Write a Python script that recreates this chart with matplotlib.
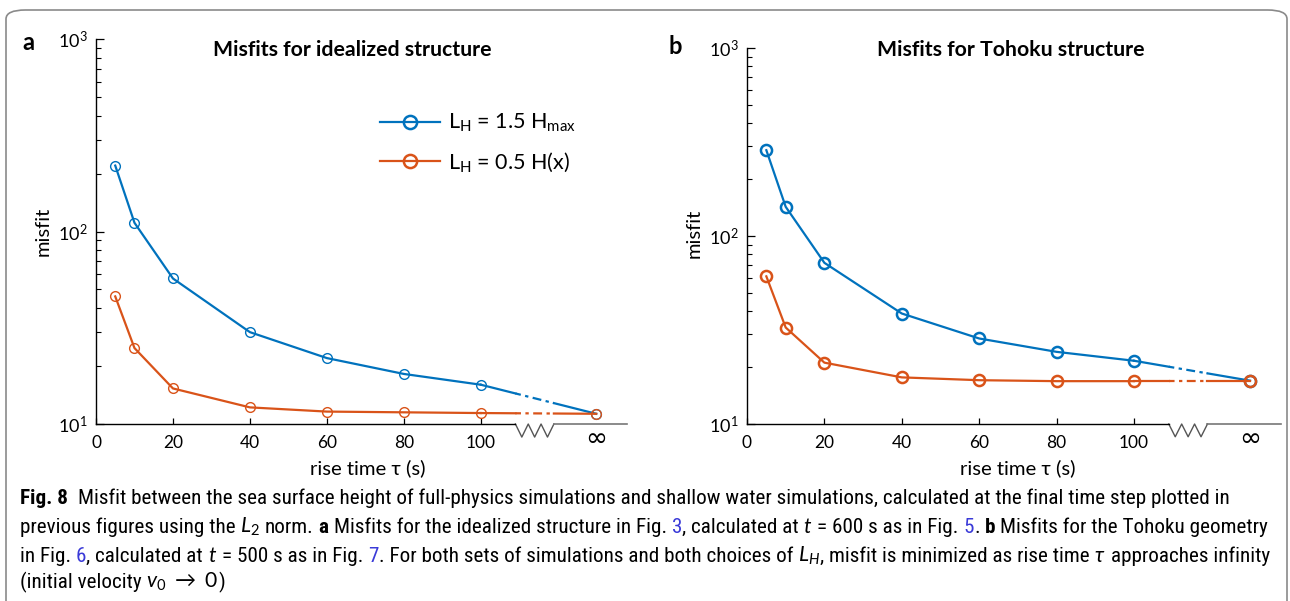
import numpy as np
import matplotlib.pyplot as plt
from matplotlib import font_manager
from matplotlib.patches import FancyBboxPatch
from matplotlib.transforms import blended_transform_factory

plt.rcParams['font.family'] = ['Lato', 'DejaVu Sans']
plt.rcParams['mathtext.fontset'] = 'custom'
plt.rcParams['mathtext.rm'] = 'Lato'
plt.rcParams['mathtext.it'] = 'Lato:italic'
plt.rcParams['mathtext.bf'] = 'Lato:bold'

# rise times (s); the last point of each series is tau -> infinity
tau = [5, 10, 20, 40, 60, 80, 100]

idealized_hmax = [220, 111, 57, 30, 22, 18.2, 16]
idealized_hmax_inf = 11.3
idealized_hx = [46, 24.8, 15.3, 12.2, 11.6, 11.5, 11.4]
idealized_hx_inf = 11.3

tohoku_hmax = [286, 143, 72, 38.7, 28.5, 24.2, 21.7]
tohoku_hmax_inf = 17.0
tohoku_hx = [61, 32.6, 21.2, 17.7, 17.1, 16.9, 16.9]
tohoku_hx_inf = 16.9

xtick_vals = [0, 20, 40, 60, 80, 100]

# layout of the broken axis
INF_POS = 130
BREAK_LO, BREAK_HI = 109, 119
XMAX = 138

BLUE = '#0072BD'
ORANGE = '#D95319'
W, H = 1290, 601

fig = plt.figure(figsize=(W / 100, H / 100), dpi=100)

frame = FancyBboxPatch((6 / W, -0.05), 1281 / W, 1.05 - 10 / H,
                       boxstyle='round,pad=0,rounding_size=0.015',
                       transform=fig.transFigure, fc='none', ec='#8a8a8a', lw=1.2)
fig.patches.append(frame)


def log_interp(x, x0, y0, x1, y1):
    f = (x - x0) / (x1 - x0)
    return 10 ** (np.log10(y0) + f * (np.log10(y1) - np.log10(y0)))


def draw_series(ax, y, y_inf, color, ms, mew, label=None):
    ax.plot(tau, y, '-', color=color, lw=1.6, marker='o', ms=ms, mfc='none',
            mec=color, mew=mew, clip_on=False)
    ylo = log_interp(BREAK_LO, tau[-1], y[-1], INF_POS, y_inf)
    yhi = log_interp(BREAK_HI, tau[-1], y[-1], INF_POS, y_inf)
    ax.plot([tau[-1], BREAK_LO], [y[-1], ylo], '-', color=color, lw=1.6)
    ax.plot([BREAK_LO, BREAK_HI], [ylo, yhi], color=color, lw=1.6,
            linestyle=(1.5, (4, 2, 1.5, 2)))
    ax.plot([BREAK_HI, INF_POS], [yhi, y_inf], '-', color=color, lw=1.6)
    ax.plot([INF_POS], [y_inf], 'o', ms=ms, mfc='none', mec=color, mew=mew,
            clip_on=False)
    if label:
        ax.plot([], [], '-', color=color, lw=1.6, marker='o', ms=9.5,
                mfc='none', mec=color, mew=1.8, label=label)


def setup_axes(ax, title, title_xy, label, label_xy, ylab_xy, xlab_xy):
    ax.set_yscale('log')
    ax.set_ylim(10, 1000)
    ax.set_xlim(0, XMAX)
    ax.set_xticks(xtick_vals)
    ax.set_xticklabels([str(v) for v in xtick_vals])
    ax.tick_params(axis='both', which='both', direction='in')
    ax.tick_params(axis='y', which='major', length=6, width=0.9, pad=6,
                   labelsize=13)
    ax.tick_params(axis='y', which='minor', length=3.5, width=0.8)
    ax.tick_params(axis='x', which='major', length=4, width=0.9, pad=8,
                   labelsize=12.5)
    ax.tick_params(axis='x', which='minor', length=0)
    for s in ['top', 'right']:
        ax.spines[s].set_visible(False)
    ax.spines['left'].set_linewidth(1.0)
    ax.spines['bottom'].set_linewidth(1.0)
    ax.spines['bottom'].set_bounds(0, BREAK_LO)
    ax.patch.set_visible(False)
    tr = blended_transform_factory(ax.transData, ax.transAxes)
    zx = np.linspace(BREAK_LO, BREAK_HI, 7)
    zy = np.array([0, -1, 0, -1, 0, -1, 0]) * 0.034
    ax.plot(zx, zy, color='#555555', lw=1.0, transform=tr, clip_on=False)
    ax.plot([BREAK_HI, XMAX], [0, 0], color='#777777', lw=1.2, transform=tr,
            clip_on=False)
    ax.text(INF_POS, -0.04, '∞', transform=tr, ha='center', va='center',
            fontsize=19, family=['DejaVu Sans'])
    ax.set_xlabel('rise time τ (s)', fontsize=14.6)
    ax.xaxis.label.set_va('center')
    ax.xaxis.set_label_coords(*xlab_xy)
    ax.set_ylabel('misfit', fontsize=14.5)
    ax.yaxis.label.set_va('center')
    ax.yaxis.set_label_coords(*ylab_xy)
    ax.text(title_xy[0], title_xy[1], title, transform=ax.transAxes,
            fontsize=15.3, fontweight='bold', ha='center', va='center')
    ax.text(label_xy[0], label_xy[1], label, transform=ax.transAxes,
            fontsize=17, fontweight='bold', ha='center', va='center')


ax1 = fig.add_axes([96 / W, 177 / H, 531 / W, 385 / H])
draw_series(ax1, idealized_hmax, idealized_hmax_inf, BLUE, 7, 1.0,
            r'L$_{\mathregular{H}}$ = 1.5 H$_{\mathregular{max}}$')
draw_series(ax1, idealized_hx, idealized_hx_inf, ORANGE, 7, 1.0,
            r'L$_{\mathregular{H}}$ = 0.5 H(x)')
setup_axes(ax1, 'Misfits for idealized structure', (0.482, 0.971),
           'a', (-0.128, 0.992), (-0.10, 0.50), (0.512, -0.114))
ax1.legend(loc='upper left', bbox_to_anchor=(0.535, 0.81), frameon=False,
           fontsize=15.5, handlelength=2.8, handletextpad=0.35,
           labelspacing=0.75, borderpad=0, borderaxespad=0)

ax2 = fig.add_axes([747 / W, 177 / H, 534 / W, 376 / H])
draw_series(ax2, tohoku_hmax, tohoku_hmax_inf, BLUE, 8, 1.8)
draw_series(ax2, tohoku_hx, tohoku_hx_inf, ORANGE, 8, 1.8)
setup_axes(ax2, 'Misfits for Tohoku structure', (0.493, 0.995),
           'b', (-0.135, 1.003), (-0.099, 0.508), (0.507, -0.117))

# caption, in the narrowest sans family that is installed
names = {f.name for f in font_manager.fontManager.ttflist}
cap_font = 'Lato'
for cand in ['Liberation Sans Narrow', 'Roboto Condensed', 'Open Sans Condensed',
             'Noto Sans Condensed', 'Arial Narrow']:
    if cand in names:
        cap_font = cand
        break
CAP_FAM = [cap_font, 'DejaVu Sans']
LINK = '#3a3ad8'
r = fig.canvas.get_renderer()

N = {}
B = {'fontweight': 'bold'}
L = {'color': LINK}

caption = [
    [('Fig. 8', B), ('  Misfit between the sea surface height of full-physics simulations and '
                     'shallow water simulations, calculated at the final time step plotted in', N)],
    [('previous figures using the ', N), (r'$L_2$', N), (' norm. ', N), ('a', B),
     (' Misfits for the idealized structure in Fig. ', N), ('3', L),
     (', calculated at ', N), (r'$t$', N), (' = 600 s as in Fig. ', N), ('5', L),
     ('. ', N), ('b', B), (' Misfits for the Tohoku geometry', N)],
    [('in Fig. ', N), ('6', L), (', calculated at ', N), (r'$t$', N),
     (' = 500 s as in Fig. ', N), ('7', L),
     ('. For both sets of simulations and both choices of ', N), (r'$L_H$', N),
     (', misfit is minimized as rise time ', N), (r'$\tau$', N),
     (' approaches infinity', N)],
    [('(initial velocity ', N), (r'$v_0\ \rightarrow\ 0$', N), (')', N)],
]
baselines = [504, 533, 562, 588]


def space_width(size):
    p1 = fig.text(0, 0, 'a a', fontsize=size, family=CAP_FAM)
    p2 = fig.text(0, 0, 'aa', fontsize=size, family=CAP_FAM)
    w = (p1.get_window_extent(r).width - p2.get_window_extent(r).width) / W
    p1.remove()
    p2.remove()
    return w


def put_line(parts, yb, size):
    sp = space_width(size)
    x = 20 / W
    made = []
    for txt, style in parts:
        lead = len(txt) - len(txt.lstrip(' '))
        trail = len(txt) - len(txt.rstrip(' '))
        x += lead * sp
        t = fig.text(x, 1 - yb / H, txt.strip(' '), fontsize=size,
                     family=CAP_FAM, va='baseline', **style)
        made.append(t)
        x += t.get_window_extent(r).width / W + trail * sp
    return x, made


# fit the longest caption line inside the frame
widest = 0
for parts, yb in zip(caption, baselines):
    end, tmp = put_line(parts, yb, 12)
    widest = max(widest, end - 20 / W)
    for t in tmp:
        t.remove()
cap_size = min(12 * (1250 / W) / widest, 17)

for parts, yb in zip(caption, baselines):
    put_line(parts, yb, cap_size)

fig.savefig('out.png', dpi=100)
